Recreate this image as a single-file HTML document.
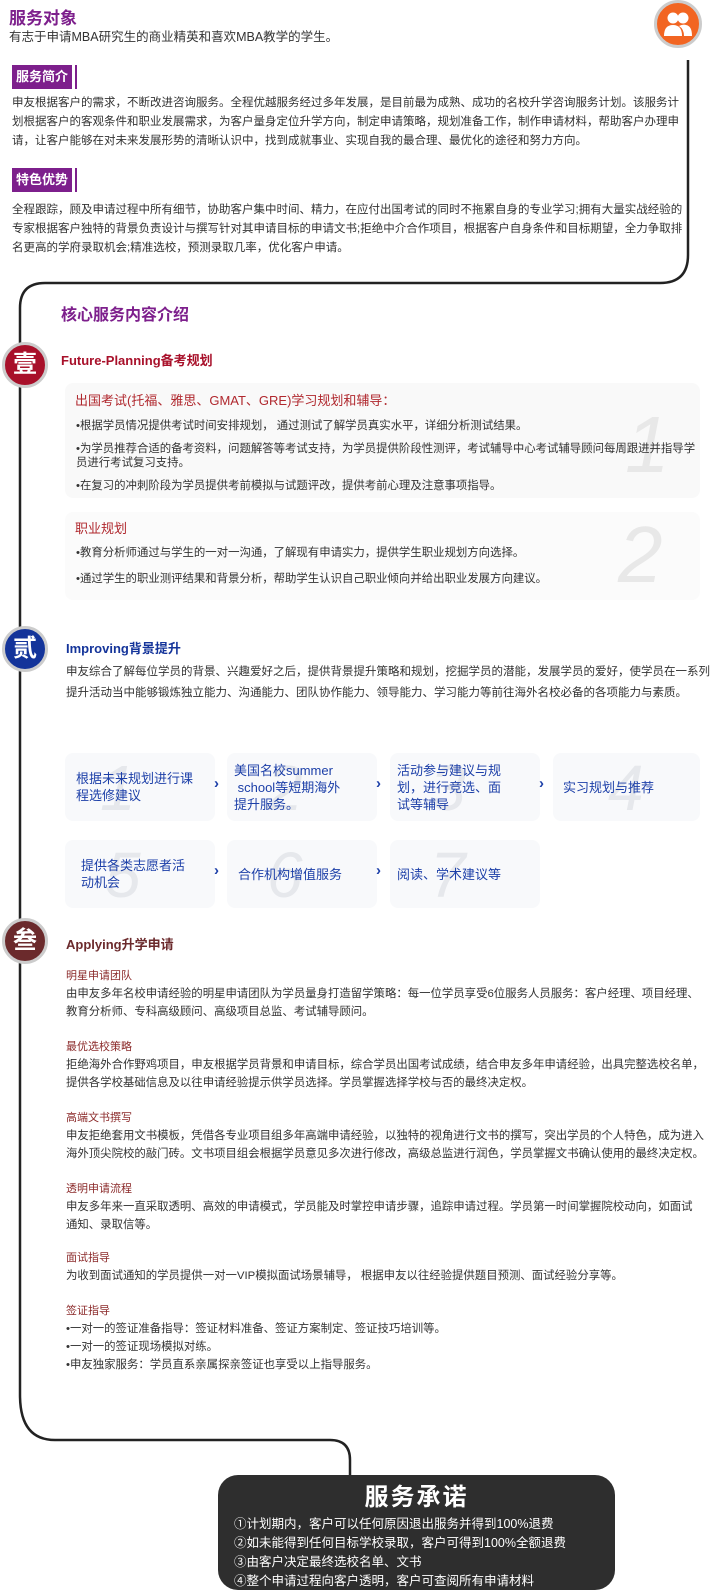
<!DOCTYPE html>
<html><head><meta charset="utf-8"><style>
*{margin:0;padding:0;box-sizing:border-box}
body{width:710px;height:1587px;background:#fff;position:relative;overflow:hidden;font-family:"Liberation Sans","Noto Sans CJK SC",sans-serif;color:#333}
.a{position:absolute}
.t{font-size:11.5px;line-height:19px;color:#333}
.tag{position:absolute;left:12px;height:24px;background:#7d1f8c;color:#fff;font-weight:bold;font-size:13px;line-height:24px;padding:0 4px;border-right:3px solid #fff;box-shadow:2px 0 0 #7d1f8c}
.circ{position:absolute;left:2px;width:46px;height:46px;border-radius:50%;border:3px solid #ccc;color:#fff;font-size:24px;font-weight:bold;text-align:center;line-height:40px}
.box{position:absolute;background:#f9f9f9;border-radius:8px}
.big{position:absolute;font-size:80px;color:#e8e8e8;font-style:italic;font-family:"Liberation Sans",sans-serif;line-height:1}
.card{position:absolute;height:68px;background:#f8f9fb;border-radius:8px;color:#1c3fa8;font-size:13px;line-height:17px;display:flex;align-items:center}
.card .n{position:absolute;font-size:64px;color:#e6e8ec;font-style:italic;top:0;line-height:70px}
.card span{position:relative}
.arr{position:absolute;color:#1c3fa8;font-weight:bold;font-size:15px;z-index:5}
.h3{font-size:11px;color:#8b2a2a;line-height:18px}
</style></head><body>
<svg class="a" style="left:0;top:0" width="710" height="1587">
<path d="M688 60 V255 Q688 283 660 283 H45 Q20 283 20 308 V1395 Q20 1440 55 1440 H330 Q350 1440 350 1460 V1477" fill="none" stroke="#222" stroke-width="2.5"/>
</svg>
<div class="a" style="left:654px;top:0;width:48px;height:48px;border-radius:50%;background:#f26522;border:3px solid #ccc"></div>
<svg class="a" style="left:663px;top:10px" width="30" height="28"><circle cx="10" cy="8" r="5.5" fill="#fff"/><circle cx="20" cy="8" r="5.5" fill="#fff"/><path d="M1 26 Q1 15 10 15 Q19 15 19 26Z" fill="#fff"/><path d="M16 16 Q20 14 23 15 Q29 16 29 26 H21 Q21 19 16 16Z" fill="#fff"/></svg>

<div class="a" style="left:9px;top:4px;font-size:17px;font-weight:bold;color:#7d1f8c">服务对象</div>
<div class="a" style="left:9px;top:26px;font-size:12.5px;color:#333">有志于申请MBA研究生的商业精英和喜欢MBA教学的学生。</div>
<div class="tag" style="top:65px">服务简介</div>
<div class="a t" style="left:12px;top:94px;width:672px">申友根据客户的需求，不断改进咨询服务。全程优越服务经过多年发展，是目前最为成熟、成功的名校升学咨询服务计划。该服务计划根据客户的客观条件和职业发展需求，为客户量身定位升学方向，制定申请策略，规划准备工作，制作申请材料，帮助客户办理申请，让客户能够在对未来发展形势的清晰认识中，找到成就事业、实现自我的最合理、最优化的途径和努力方向。</div>
<div class="tag" style="top:168px">特色优势</div>
<div class="a t" style="left:12px;top:201px;width:674px">全程跟踪，顾及申请过程中所有细节，协助客户集中时间、精力，在应付出国考试的同时不拖累自身的专业学习;拥有大量实战经验的专家根据客户独特的背景负责设计与撰写针对其申请目标的申请文书;拒绝中介合作项目，根据客户自身条件和目标期望，全力争取排名更高的学府录取机会;精准选校，预测录取几率，优化客户申请。</div>

<div class="a" style="left:61px;top:301px;font-size:16px;font-weight:bold;color:#7d1f8c">核心服务内容介绍</div>
<div class="circ" style="top:342px;background:#a8102a">壹</div>
<div class="a" style="left:61px;top:350px;font-size:13px;font-weight:bold;color:#a8102a">Future-Planning备考规划</div>
<div class="box" style="left:65px;top:383px;width:635px;height:115px"></div>
<div class="big" style="left:625px;top:405px">1</div>
<div class="a" style="left:75px;top:390px;font-size:13px;color:#b0282e">出国考试(托福、雅思、GMAT、GRE)学习规划和辅导：</div>
<div class="a t" style="left:76px;top:419px;width:620px;line-height:14px;font-size:11.4px">
<div style="margin-bottom:9px">•根据学员情况提供考试时间安排规划， 通过测试了解学员真实水平，详细分析测试结果。</div>
<div style="margin-bottom:9px">•为学员推荐合适的备考资料，问题解答等考试支持，为学员提供阶段性测评，考试辅导中心考试辅导顾问每周跟进并指导学员进行考试复习支持。</div>
<div>•在复习的冲刺阶段为学员提供考前模拟与试题评改，提供考前心理及注意事项指导。</div></div>
<div class="box" style="left:65px;top:512px;width:635px;height:88px;background:#fbfbfb"></div>
<div class="big" style="left:618px;top:515px">2</div>
<div class="a" style="left:75px;top:518px;font-size:13px;color:#b0282e">职业规划</div>
<div class="a t" style="left:76px;top:546px;width:620px;line-height:14px;font-size:11.4px">
<div style="margin-bottom:12px">•教育分析师通过与学生的一对一沟通，了解现有申请实力，提供学生职业规划方向选择。</div>
<div>•通过学生的职业测评结果和背景分析，帮助学生认识自己职业倾向并给出职业发展方向建议。</div></div>

<div class="circ" style="top:626px;background:#14349a">贰</div>
<div class="a" style="left:66px;top:638px;font-size:13px;font-weight:bold;color:#14349a">Improving背景提升</div>
<div class="a t" style="left:66px;top:662px;width:650px;line-height:21px;font-size:11.5px">申友综合了解每位学员的背景、兴趣爱好之后，提供背景提升策略和规划，挖掘学员的潜能，发展学员的爱好，使学员在一系列提升活动当中能够锻炼独立能力、沟通能力、团队协作能力、领导能力、学习能力等前往海外名校必备的各项能力与素质。</div>

<div class="card" style="left:65px;top:753px;width:150px"><div class="n" style="left:35px">1</div><span style="left:11px;width:122px">根据未来规划进行课程选修建议</span></div>
<div class="arr" style="left:214px;top:775px">›</div>
<div class="card" style="left:227px;top:753px;width:150px"><div class="n" style="left:40px">2</div><span style="left:7px;width:128px">美国名校summer<br>&nbsp;school等短期海外<br>提升服务。</span></div>
<div class="arr" style="left:376px;top:775px">›</div>
<div class="card" style="left:390px;top:753px;width:150px"><div class="n" style="left:40px">3</div><span style="left:7px;width:120px">活动参与建议与规<br>划，进行竞选、面<br>试等辅导</span></div>
<div class="arr" style="left:539px;top:775px">›</div>
<div class="card" style="left:553px;top:753px;width:147px"><div class="n" style="left:55px">4</div><span style="left:10px">实习规划与推荐</span></div>
<div class="card" style="left:65px;top:840px;width:150px"><div class="n" style="left:40px">5</div><span style="left:16px;width:120px">提供各类志愿者活<br>动机会</span></div>
<div class="arr" style="left:214px;top:862px">›</div>
<div class="card" style="left:227px;top:840px;width:150px"><div class="n" style="left:40px">6</div><span style="left:11px">合作机构增值服务</span></div>
<div class="arr" style="left:376px;top:862px">›</div>
<div class="card" style="left:390px;top:840px;width:150px"><div class="n" style="left:40px">7</div><span style="left:7px">阅读、学术建议等</span></div>

<div class="circ" style="top:918px;background:#6b2a2c">叁</div>
<div class="a" style="left:66px;top:934px;font-size:13px;font-weight:bold;color:#6b2a2c">Applying升学申请</div>
<div class="a t" style="left:66px;top:967px;width:642px;line-height:18px;font-size:11.4px">
<div class="h3">明星申请团队</div>
<div>由申友多年名校申请经验的明星申请团队为学员量身打造留学策略：每一位学员享受6位服务人员服务：客户经理、项目经理、教育分析师、专科高级顾问、高级项目总监、考试辅导顾问。</div>
<div class="h3" style="margin-top:17px">最优选校策略</div>
<div>拒绝海外合作野鸡项目，申友根据学员背景和申请目标，综合学员出国考试成绩，结合申友多年申请经验，出具完整选校名单，提供各学校基础信息及以往申请经验提示供学员选择。学员掌握选择学校与否的最终决定权。</div>
<div class="h3" style="margin-top:17px">高端文书撰写</div>
<div>申友拒绝套用文书模板，凭借各专业项目组多年高端申请经验，以独特的视角进行文书的撰写，突出学员的个人特色，成为进入海外顶尖院校的敲门砖。文书项目组会根据学员意见多次进行修改，高级总监进行润色，学员掌握文书确认使用的最终决定权。</div>
<div class="h3" style="margin-top:17px">透明申请流程</div>
<div>申友多年来一直采取透明、高效的申请模式，学员能及时掌控申请步骤，追踪申请过程。学员第一时间掌握院校动向，如面试<br>通知、录取信等。</div>
<div class="h3" style="margin-top:15px">面试指导</div>
<div>为收到面试通知的学员提供一对一VIP模拟面试场景辅导， 根据申友以往经验提供题目预测、面试经验分享等。</div>
<div class="h3" style="margin-top:17px">签证指导</div>
<div>•一对一的签证准备指导：签证材料准备、签证方案制定、签证技巧培训等。</div>
<div>•一对一的签证现场模拟对练。</div>
<div>•申友独家服务：学员直系亲属探亲签证也享受以上指导服务。</div>
</div>

<div class="a" style="left:218px;top:1475px;width:397px;height:115px;background:#2e2e2e;border-radius:20px;color:#fff">
<div style="text-align:center;font-size:24px;font-weight:bold;margin-top:8px;line-height:30px;letter-spacing:2px">服务承诺</div>
<div style="padding-left:16px;font-size:12.5px;line-height:19px;margin-top:2px">①计划期内，客户可以任何原因退出服务并得到100%退费<br>②如未能得到任何目标学校录取，客户可得到100%全额退费<br>③由客户决定最终选校名单、文书<br>④整个申请过程向客户透明，客户可查阅所有申请材料</div>
</div>
</body></html>
